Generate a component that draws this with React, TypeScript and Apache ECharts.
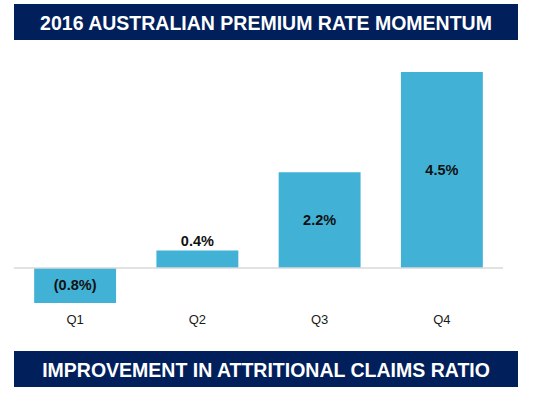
import React, { useEffect, useRef } from "react";
import * as echarts from "echarts";

const titleTop = "2016 AUSTRALIAN PREMIUM RATE MOMENTUM";
const titleBottom = "IMPROVEMENT IN ATTRITIONAL CLAIMS RATIO";
const categories = ["Q1", "Q2", "Q3", "Q4"];
const values = [-0.8, 0.4, 2.2, 4.5];

const NAVY = "#001f5b";
const BAR = "#42b1d6";
const FONT = "Arial, 'Liberation Sans', sans-serif";

function fmt(v: number): string {
  const s = Math.abs(v).toFixed(1) + "%";
  return v < 0 ? `(${s})` : s;
}

export default function App() {
  const ref = useRef<HTMLDivElement>(null);
  useEffect(() => {
    if (!ref.current) return;
    const chart = echarts.init(ref.current, null, { renderer: "svg" });
    chart.setOption({
      animation: false,
      backgroundColor: "#ffffff",
      grid: { left: 14, right: 30, top: 50.2, bottom: 81.4, containLabel: false },
      xAxis: {
        type: "category",
        data: categories,
        axisLine: { show: false, onZero: false },
        axisTick: { show: false },
        axisLabel: { margin: 1.5, color: "#1a1a1a", fontSize: 13, fontFamily: FONT },
      },
      yAxis: {
        type: "value",
        min: -1,
        max: 5,
        show: false,
        splitLine: { show: false },
      },
      series: [
        {
          type: "bar",
          barWidth: "67%",
          data: values.map((v) => ({
            value: v,
            label: {
              show: true,
              position: v > 0 && v < 0.6 ? "top" : "inside",
              distance: 2,
              formatter: () => fmt(v),
              color: "#111111",
              fontSize: 14.5,
              fontWeight: "bold",
              fontFamily: FONT,
            },
          })),
          itemStyle: { color: BAR },
          markLine: {
            silent: true,
            symbol: ["none", "none"],
            label: { show: false },
            lineStyle: { color: "#d9d9d9", width: 1.5, type: "solid" },
            data: [{ yAxis: 0 }],
          },
        },
      ],
      graphic: [
        { type: "rect", shape: { x: 14, y: 4, width: 504, height: 36 }, style: { fill: NAVY } },
        {
          type: "text",
          x: 266,
          y: 22.5,
          style: {
            text: titleTop,
            fill: "#ffffff",
            font: `bold 19.5px ${FONT}`,
            align: "center",
            verticalAlign: "middle",
          },
        },
        { type: "rect", shape: { x: 14, y: 351, width: 504, height: 36 }, style: { fill: NAVY } },
        {
          type: "text",
          x: 266,
          y: 369.5,
          style: {
            text: titleBottom,
            fill: "#ffffff",
            font: `bold 19.5px ${FONT}`,
            align: "center",
            verticalAlign: "middle",
          },
        },
      ],
    });
    return () => chart.dispose();
  }, []);
  return (
    <div
      ref={ref}
      style={{ position: "fixed", left: 0, top: 0, width: 533, height: 393, background: "#fff" }}
    />
  );
}
